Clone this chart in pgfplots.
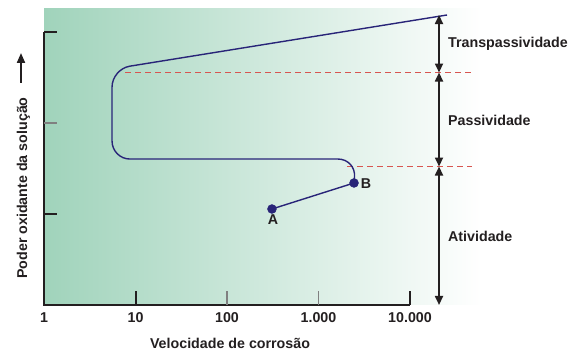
\documentclass[border=0pt]{standalone}
\usepackage{fontspec}
\setmainfont{Liberation Sans}
\usepackage{pgfplots}
\pgfplotsset{compat=1.18}
\usetikzlibrary{arrows.meta}
\definecolor{curve}{RGB}{40,36,120}
\definecolor{reddash}{RGB}{215,85,80}
\definecolor{txt}{RGB}{35,31,32}
\definecolor{bggreen}{RGB}{160,211,187}
\begin{document}
\begin{tikzpicture}[font=\fontsize{14.3}{16}\selectfont\bfseries]
\useasboundingbox (-44bp,-46bp) rectangle (535bp,305bp);
\begin{axis}[
  at={(0,0)}, anchor=south west,
  scale only axis, width=438bp, height=296bp,
  xmode=log, xmin=1, xmax=61200, ymin=0, ymax=3.253,
  axis line style={draw=none},
  xtick={1,10,100,1000,10000}, xticklabels={1,10,100,1.000,10.000},
  ytick=\empty, xminorticks=false,
  major tick length=0pt, minor tick length=0pt,
  xticklabel style={font=\fontsize{14.3}{16}\selectfont\bfseries, text=txt, anchor=north, yshift=-7bp, inner sep=0pt},
  clip=false,
  /pgf/number format/assume math mode=true,
]
\fill[left color=bggreen, right color=white] (rel axis cs:0,0) rectangle (rel axis cs:1,1);
% dashed boundaries
\addplot[reddash, dash pattern=on 6bp off 4bp, line width=1bp] coordinates {(7.68,2.555) (47600,2.555)};
\addplot[reddash, dash pattern=on 6bp off 4bp, line width=1bp] coordinates {(2048,1.522) (47600,1.522)};
% curve
\addplot[curve, line width=1.4bp] coordinates {(310,1.055) (2443,1.341)};
\addplot[curve, line width=1.4bp, rounded corners=18bp] coordinates {(2443,1.341) (2570,1.604) (5.54,1.604) (5.54,2.593) (25370,3.187)};
\addplot[only marks, mark=*, mark size=4.5bp, curve] coordinates {(310,1.055) (2443,1.341)};
% region arrows
\addplot[txt, line width=1.8bp, {Triangle[length=9bp,width=8bp]}-{Triangle[length=9bp,width=8bp]}] coordinates {(20750,3.187) (20750,2.555)};
\addplot[txt, line width=1.8bp, {Triangle[length=9bp,width=8bp]}-{Triangle[length=9bp,width=8bp]}] coordinates {(20750,2.555) (20750,1.522)};
\addplot[txt, line width=1.8bp, {Triangle[length=9bp,width=8bp]}-{Triangle[length=9bp,width=8bp]}] coordinates {(20750,1.522) (20750,0)};
% axis lines and ticks
\draw[txt, line width=2bp, line join=miter] (axis cs:1,3) -- (axis cs:1,0) -- (axis cs:10000,0);
\draw[txt, line width=2bp] (axis cs:1,3) -- ([xshift=13bp]axis cs:1,3);
\draw[gray, line width=1.5bp] (axis cs:1,2) -- ([xshift=13bp]axis cs:1,2);
\draw[txt, line width=2bp] (axis cs:1,1) -- ([xshift=13bp]axis cs:1,1);
\draw[txt, line width=2bp] (axis cs:10,0) -- ([yshift=14bp]axis cs:10,0);
\draw[gray, line width=1.5bp] (axis cs:100,0) -- ([yshift=14bp]axis cs:100,0);
\draw[gray, line width=1.5bp] (axis cs:1000,0) -- ([yshift=14bp]axis cs:1000,0);
\draw[txt, line width=2bp] (axis cs:10000,0) -- ([yshift=14bp]axis cs:10000,0);
\end{axis}
\node[anchor=west, inner sep=0, text=txt] at (404bp,261bp) {Transpassividade};
\node[anchor=west, inner sep=0, text=txt] at (404bp,185bp) {Passividade};
\node[anchor=west, inner sep=0, text=txt] at (404bp,69bp) {Atividade};
\node[inner sep=0, text=txt] at (229bp,85bp) {A};
\node[inner sep=0, text=txt] at (322bp,121bp) {B};
\node[anchor=base, inner sep=0, text=txt] at (186bp,-43bp) {Velocidade de corrosão};
\node[anchor=base, rotate=90, inner sep=0, text=txt] at (-17bp,117bp) {Poder oxidante da solução};
\draw[txt, line width=2bp, -{Triangle[length=10bp,width=8bp]}] (-23bp,222bp) -- (-23bp,252bp);
\end{tikzpicture}
\end{document}
